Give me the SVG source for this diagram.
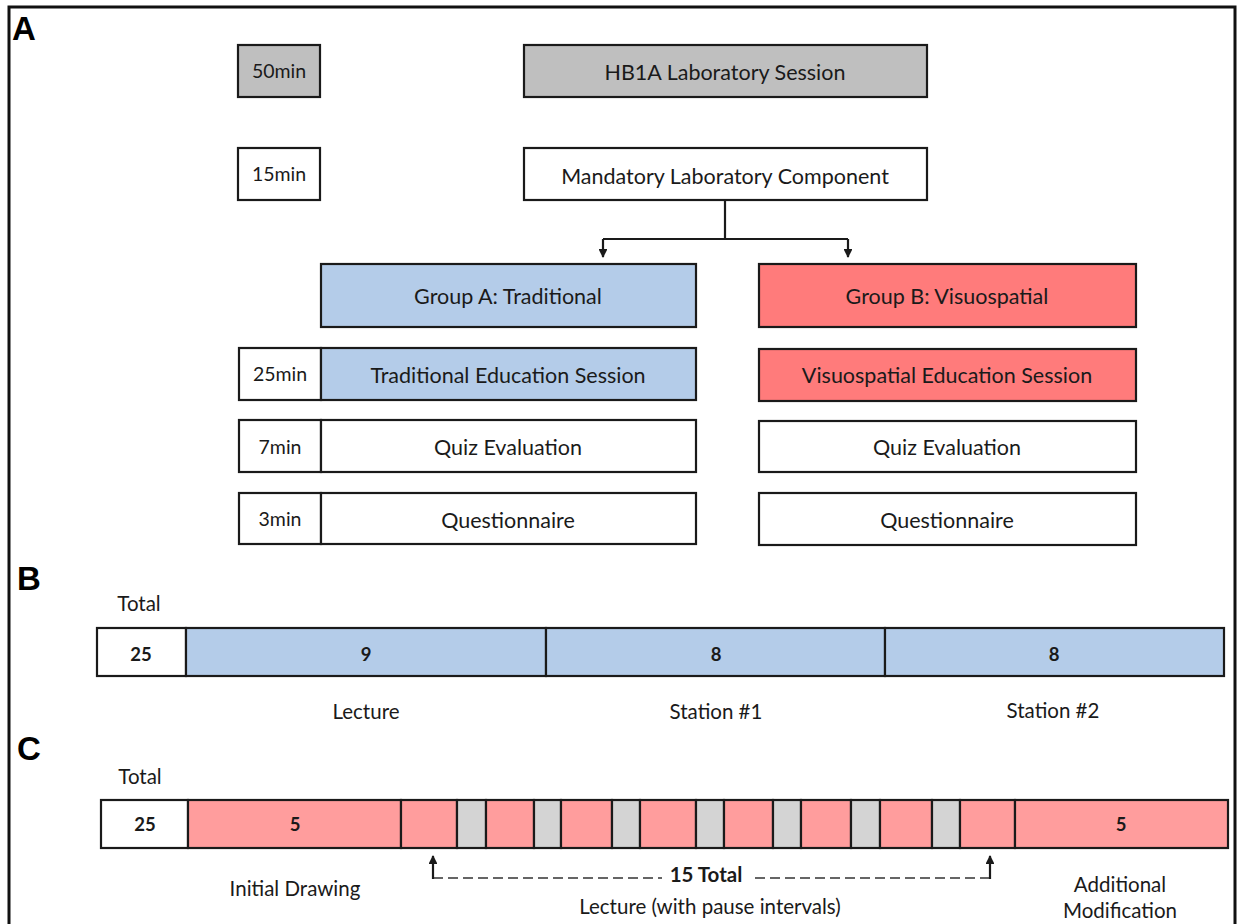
<svg xmlns="http://www.w3.org/2000/svg" width="1240" height="924" viewBox="0 0 1240 924">
<defs>
<style>
.box{stroke:#1a1a1a;stroke-width:2.2}
.w{fill:#ffffff}
.g{fill:#bfbfbf}
.b{fill:#b4cce9}
.r{fill:#ff7b7b}
.p{fill:#ff9d9d}
.q{fill:#d4d4d4}
text{font-family:Lato,"Open Sans","Liberation Sans",sans-serif;fill:#1a1a1a;text-anchor:middle}
.t{font-size:21.5px}
.m{font-size:19.5px}
.s{font-size:20.5px}
.n{font-size:18.5px;font-weight:bold}
.nt{font-size:20.5px;font-weight:bold}
.lab{font-family:"Liberation Sans",Arial,sans-serif;font-size:33px;font-weight:bold;text-anchor:start;fill:#000}
.ln{fill:none;stroke:#1a1a1a;stroke-width:2.2}
.dash{fill:none;stroke:#333;stroke-width:1.5;stroke-dasharray:10,5}
</style>
<marker id="ah" viewBox="0 0 10 10" refX="9" refY="5" markerWidth="4" markerHeight="4" orient="auto">
<path d="M0,0 L10,5 L0,10 z" fill="#1a1a1a"/>
</marker>
</defs>
<rect x="0" y="0" width="1240" height="924" fill="#ffffff"/>
<rect x="9" y="7" width="1226" height="930" fill="none" stroke="#111" stroke-width="3"/>

<text class="lab" x="12" y="40">A</text>
<text class="lab" x="17" y="590">B</text>
<text class="lab" x="17" y="760">C</text>

<g id="t50"><rect class="box g" x="238" y="45" width="82" height="52"/><text class="m" x="279" y="78">50min</text></g>
<g id="hb1a"><rect class="box g" x="524" y="45" width="403" height="52"/><text class="t" x="725" y="80">HB1A Laboratory Session</text></g>
<g id="t15"><rect class="box w" x="238" y="148" width="82" height="52"/><text class="m" x="279" y="181">15min</text></g>
<g id="mandatory"><rect class="box w" x="524" y="148" width="403" height="52"/><text class="t" x="725" y="184">Mandatory Laboratory Component</text></g>

<g id="connectors">
<path class="ln" d="M725,200 V239 M603,239 H848"/>
<path class="ln" d="M603,239 V257" marker-end="url(#ah)"/>
<path class="ln" d="M848,239 V257" marker-end="url(#ah)"/>
<path class="dash" d="M433,878 H662"/>
<path class="dash" d="M755,878 H990"/>
<path class="ln" d="M433,879 V856" stroke-width="1.5" marker-end="url(#ah)"/>
<path class="ln" d="M990,879 V856" stroke-width="1.5" marker-end="url(#ah)"/>
</g>

<g id="groupA"><rect class="box b" x="321" y="264" width="375" height="63"/><text class="t" x="508" y="304">Group A: Traditional</text></g>
<g id="groupB"><rect class="box r" x="759" y="264" width="377" height="63"/><text class="t" x="947" y="304">Group B: Visuospatial</text></g>

<g id="t25"><rect class="box w" x="239" y="348" width="82" height="52"/><text class="m" x="280" y="381">25min</text></g>
<g id="tradEd"><rect class="box b" x="321" y="348" width="375" height="52"/><text class="t" x="508" y="383">Traditional Education Session</text></g>
<g id="visEd"><rect class="box r" x="759" y="349" width="377" height="52"/><text class="t" x="947" y="383">Visuospatial Education Session</text></g>

<g id="t7"><rect class="box w" x="239" y="420" width="82" height="52"/><text class="m" x="280" y="454">7min</text></g>
<g id="quizA"><rect class="box w" x="321" y="420" width="375" height="52"/><text class="t" x="508" y="455">Quiz Evaluation</text></g>
<g id="quizB"><rect class="box w" x="759" y="421" width="377" height="51"/><text class="t" x="947" y="455">Quiz Evaluation</text></g>

<g id="t3"><rect class="box w" x="239" y="493" width="82" height="51"/><text class="m" x="280" y="526">3min</text></g>
<g id="questA"><rect class="box w" x="321" y="493" width="375" height="51"/><text class="t" x="508" y="528">Questionnaire</text></g>
<g id="questB"><rect class="box w" x="759" y="493" width="377" height="52"/><text class="t" x="947" y="528">Questionnaire</text></g>

<g id="barB">
<text class="s" x="139" y="611">Total</text>
<rect class="box w" x="97" y="628" width="89" height="48"/>
<rect class="box b" x="186" y="628" width="360" height="48"/>
<rect class="box b" x="546" y="628" width="339" height="48"/>
<rect class="box b" x="885" y="628" width="339" height="48"/>
<text class="n" x="141" y="661">25</text>
<text class="n" x="366" y="661">9</text>
<text class="n" x="716" y="661">8</text>
<text class="n" x="1054" y="661">8</text>
<text class="s" x="366" y="719">Lecture</text>
<text class="s" x="716" y="719">Station #1</text>
<text class="s" x="1053" y="718">Station #2</text>
</g>

<g id="barC">
<text class="s" x="140" y="784">Total</text>
<rect class="box w" x="101" y="800" width="87" height="48"/>
<rect class="box p" x="188" y="800" width="213" height="48"/>
<rect class="box p" x="401" y="800" width="56" height="48"/>
<rect class="box q" x="457" y="800" width="29" height="48"/>
<rect class="box p" x="486" y="800" width="48" height="48"/>
<rect class="box q" x="534" y="800" width="27" height="48"/>
<rect class="box p" x="561" y="800" width="51" height="48"/>
<rect class="box q" x="612" y="800" width="28" height="48"/>
<rect class="box p" x="640" y="800" width="56" height="48"/>
<rect class="box q" x="696" y="800" width="28" height="48"/>
<rect class="box p" x="724" y="800" width="49" height="48"/>
<rect class="box q" x="773" y="800" width="28" height="48"/>
<rect class="box p" x="801" y="800" width="50" height="48"/>
<rect class="box q" x="851" y="800" width="29" height="48"/>
<rect class="box p" x="880" y="800" width="52" height="48"/>
<rect class="box q" x="932" y="800" width="28" height="48"/>
<rect class="box p" x="960" y="800" width="55" height="48"/>
<rect class="box p" x="1015" y="800" width="213" height="48"/>
<text class="n" x="145" y="831">25</text>
<text class="n" x="295" y="831">5</text>
<text class="n" x="1121" y="831">5</text>
<text class="nt" x="706" y="882">15 Total</text>
<text class="s" x="295" y="896">Initial Drawing</text>
<text class="s" x="710" y="914">Lecture (with pause intervals)</text>
<text class="s" x="1120" y="892">Additional</text>
<text class="s" x="1120" y="918">Modification</text>
</g>
</svg>
